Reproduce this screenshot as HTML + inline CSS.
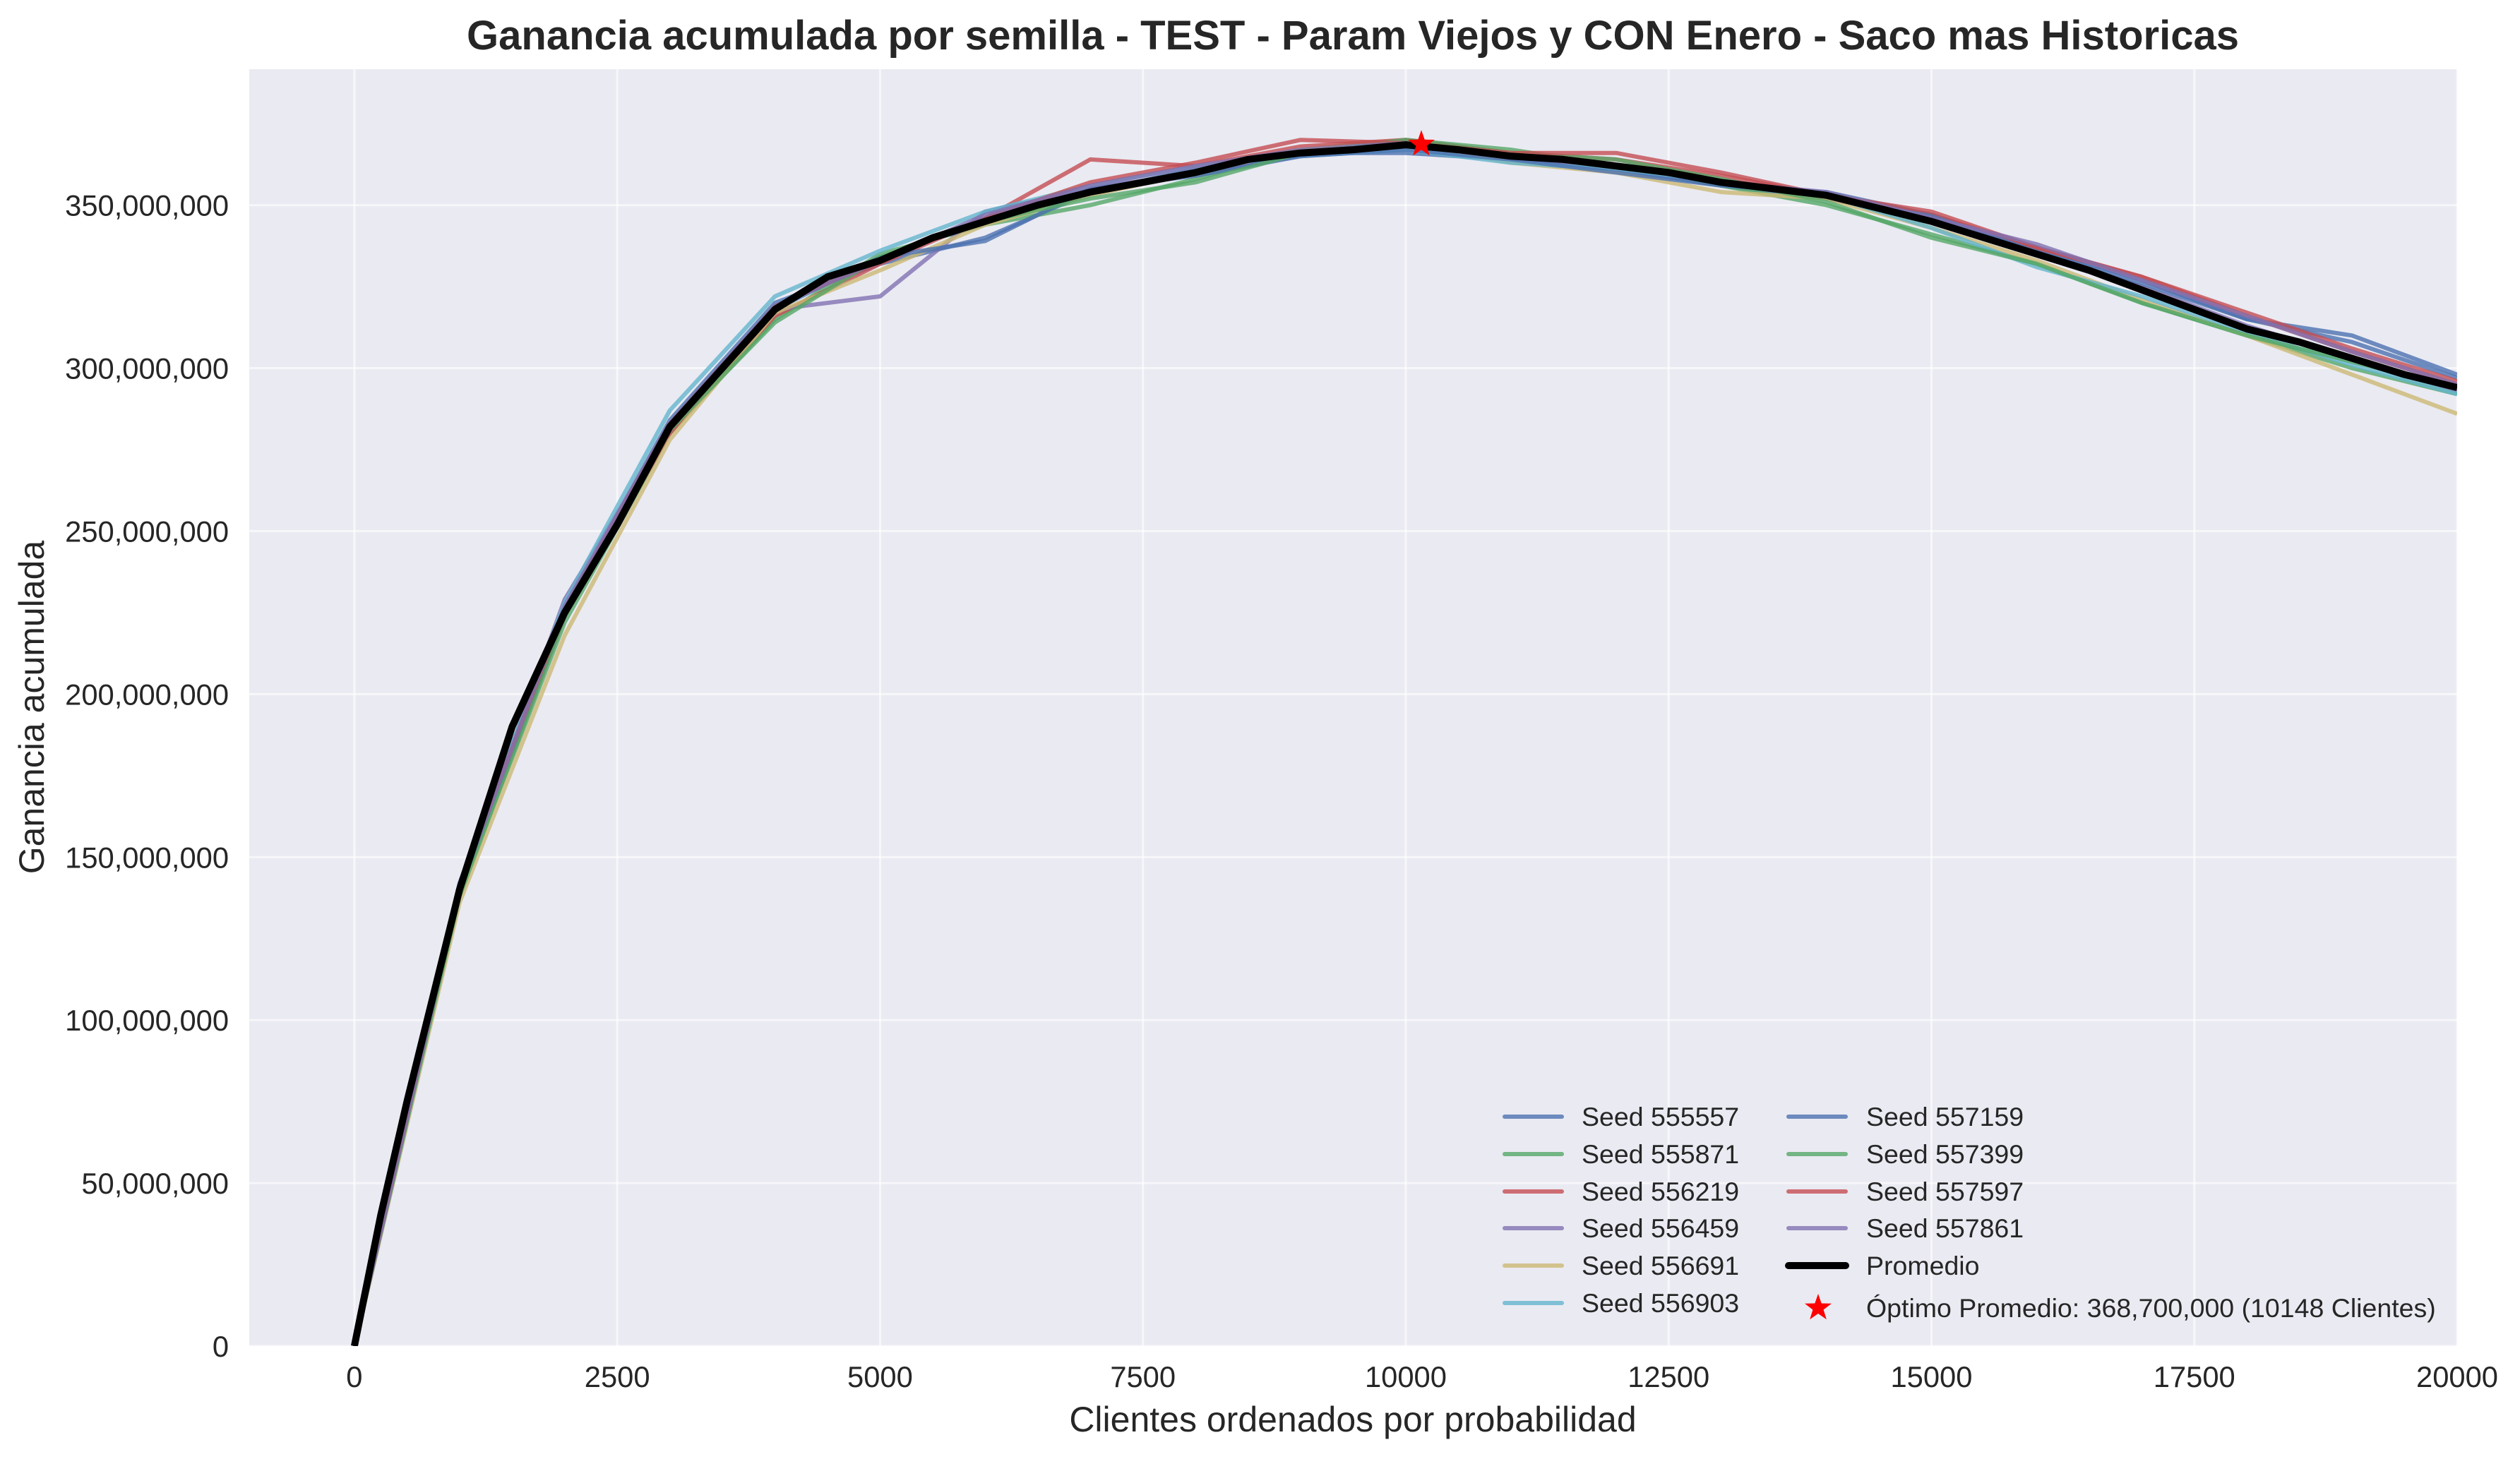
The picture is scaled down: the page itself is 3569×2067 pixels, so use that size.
<!DOCTYPE html>
<html><head><meta charset="utf-8">
<style>
html,body{margin:0;padding:0;background:#fff;}
svg{display:block;font-family:"Liberation Sans",sans-serif;}
</style></head>
<body>
<svg id="chart" width="3569" height="2067" viewBox="0 0 3569 2067" xmlns="http://www.w3.org/2000/svg">
<defs><clipPath id="plotclip"><rect x="353" y="98" width="3127" height="1809"/></clipPath></defs>
<rect x="353" y="98" width="3127" height="1809" fill="#EAEAF2"/>
<g id="grid"></g>
<g id="series" clip-path="url(#plotclip)"></g>
<g id="ticks"></g>
<text x="1916" y="70" text-anchor="middle" font-size="58" font-weight="bold" fill="#262626">Ganancia acumulada por semilla - TEST - Param Viejos y CON Enero - Saco mas Historicas</text>
<text x="1916" y="2028" text-anchor="middle" font-size="50" fill="#262626">Clientes ordenados por probabilidad</text>
<text transform="translate(62,1002) rotate(-90)" text-anchor="middle" font-size="50" fill="#262626">Ganancia acumulada</text>
<g id="legend"></g>
</svg>
<script>
const xTicks = [0, 2500, 5000, 7500, 10000, 12500, 15000, 17500, 20000];
const yTicks = [0, 50, 100, 150, 200, 250, 300, 350];
const seedNames = ["Seed 555557","Seed 555871","Seed 556219","Seed 556459","Seed 556691","Seed 556903","Seed 557159","Seed 557399","Seed 557597","Seed 557861"];
const seedX = [0,1000,2000,3000,4000,5000,6000,7000,8000,9000,10000,11000,12000,13000,14000,15000,16000,17000,18000,19000,20000];
const s555557 = [0,142,226,284,320,332,340,354,361,366,366,364,361,356,352,346,337,327,315,308,297];
const s555871 = [0,139,222,280,315,335,344,350,358,367,370,367,362,356,350,341,332,320,310,300,292];
const s556219 = [0,141,224,280,316,332,346,364,362,368,370,366,364,359,353,347,337,328,316,305,295];
const s556459 = [0,140,229,282,318,322,348,355,360,365,368,364,361,357,353,346,336,325,313,303,293];
const s556691 = [0,136,218,278,317,330,344,353,360,367,369,363,360,354,352,343,333,321,310,298,286];
const s556903 = [0,141,228,287,322,336,348,356,362,365,367,363,361,357,353,343,331,322,311,301,292];
const s557159 = [0,140,225,283,318,334,339,355,359,365,367,364,360,356,354,347,336,326,315,310,298];
const s557399 = [0,138,224,281,314,334,345,352,357,366,370,366,364,358,351,340,332,320,310,302,294];
const s557597 = [0,141,226,283,319,333,346,357,363,370,369,366,366,360,353,348,337,328,317,306,296];
const s557861 = [0,140,227,283,319,333,347,356,362,367,369,365,362,357,354,346,338,327,316,305,295];
const avgX = [0,250,500,1000,1500,2000,2500,3000,3500,4000,4500,5000,5500,6000,6500,7000,7500,8000,8500,9000,9500,10000,10500,11000,11500,12000,12500,13000,13500,14000,14500,15000,15500,16000,16500,17000,17500,18000,18500,19000,19500,20000];
const avgY = [0,40,75,140,190,225,252,282,300,318,328,333,340,345,350,354,357,360,364,366,367,368.5,367,365,364,362,360,357,355,353,349,345,340,335,330,324,318,312,308,303,298,294];
const optX = 10148, optY = 368.7;

const seriesData = [s555557,s555871,s556219,s556459,s556691,s556903,s557159,s557399,s557597,s557861];
const colors = ["#4C72B0","#55A868","#C44E52","#8172B2","#CCB974","#64B5CD","#4C72B0","#55A868","#C44E52","#8172B2"];
const X0=353,X1=3480,Y0=1907,Y1=98, XMIN=-1000,XMAX=20000,YMIN=0,YMAX=391.7;
const sx = v => X0 + (v-XMIN)/(XMAX-XMIN)*(X1-X0);
const sy = v => Y0 - (v-YMIN)/(YMAX-YMIN)*(Y0-Y1);
const NS="http://www.w3.org/2000/svg";
function mk(tag, attrs, parent){const e=document.createElementNS(NS,tag);for(const k in attrs)e.setAttribute(k,attrs[k]);parent.appendChild(e);return e;}
const grid=document.getElementById('grid'), ticks=document.getElementById('ticks'), series=document.getElementById('series'), legend=document.getElementById('legend');
const fmt = v => (v*1000000).toLocaleString('en-US');
xTicks.forEach(t=>{
  const l=mk('line',{x1:sx(t),x2:sx(t),y1:Y1,y2:Y0,stroke:'#fff','stroke-width':3,'stroke-opacity':0.6},grid);
  
  
  const tx=mk('text',{x:sx(t),y:1965,'text-anchor':'middle','font-size':41.7,fill:'#262626'},ticks);
  tx.textContent=t;
  
  
});
yTicks.forEach(t=>{
  const l=mk('line',{x1:X0,x2:X1,y1:sy(t),y2:sy(t),stroke:'#fff','stroke-width':3,'stroke-opacity':0.6},grid);
  
  
  const tx=mk('text',{x:324,y:sy(t)+15,'text-anchor':'end','font-size':41.7,fill:'#262626'},ticks);
  tx.textContent=t===0?'0':fmt(t);
  
  
});
seriesData.forEach((arr,i)=>{
  const d=arr.map((v,j)=>(j?'L':'M')+sx(seedX[j]).toFixed(1)+','+sy(v).toFixed(1)).join('');
  const p=mk('path',{d:d,fill:'none',stroke:colors[i],'stroke-width':6,'stroke-opacity':0.8,'stroke-linejoin':'round'},series);
  
  
});
const avgD=avgY.map((v,j)=>(j?'L':'M')+sx(avgX[j]).toFixed(1)+','+sy(v).toFixed(1)).join('');
const ap=mk('path',{d:avgD,fill:'none',stroke:'#000','stroke-width':10,'stroke-linejoin':'round'},series);


function star(cx,cy,r,parent){
  let pts=[];for(let k=0;k<10;k++){const a=-Math.PI/2+k*Math.PI/5;const rr=k%2?r*0.4:r;pts.push((cx+rr*Math.cos(a)).toFixed(1)+','+(cy+rr*Math.sin(a)).toFixed(1));}
  return mk('polygon',{points:pts.join(' '),fill:'#ff0000'},parent);
}
const st=star(sx(optX),sy(optY),20,document.getElementById('chart'));


const rows=[1582,1635,1688,1740,1793,1846];
seriesData.forEach((arr,i)=>{
  const col=i<6?0:1, r=i<6?i:i-6;
  const lx=col?2533:2131, tx=col?2643:2240;
  const l=mk('line',{x1:lx,x2:lx+81,y1:rows[r],y2:rows[r],stroke:colors[i],'stroke-width':6,'stroke-opacity':0.8,'stroke-linecap':'round'},legend);
  
  
  const t=mk('text',{x:tx,y:rows[r]+13,'font-size':37.5,fill:'#262626'},legend);
  t.textContent=seedNames[i];
  
  
});
const pl=mk('line',{x1:2533,x2:2614,y1:rows[4],y2:rows[4],stroke:'#000','stroke-width':10,'stroke-linecap':'round'},legend);


const pt=mk('text',{x:2643,y:rows[4]+13,'font-size':37.5,fill:'#262626'},legend);
pt.textContent='Promedio';


const ls=star(2575,1853,20,legend);


const ot=mk('text',{x:2643,y:1866,'font-size':37.5,fill:'#262626'},legend);
ot.textContent='Óptimo Promedio: 368,700,000 (10148 Clientes)';


</script>
</body></html>
